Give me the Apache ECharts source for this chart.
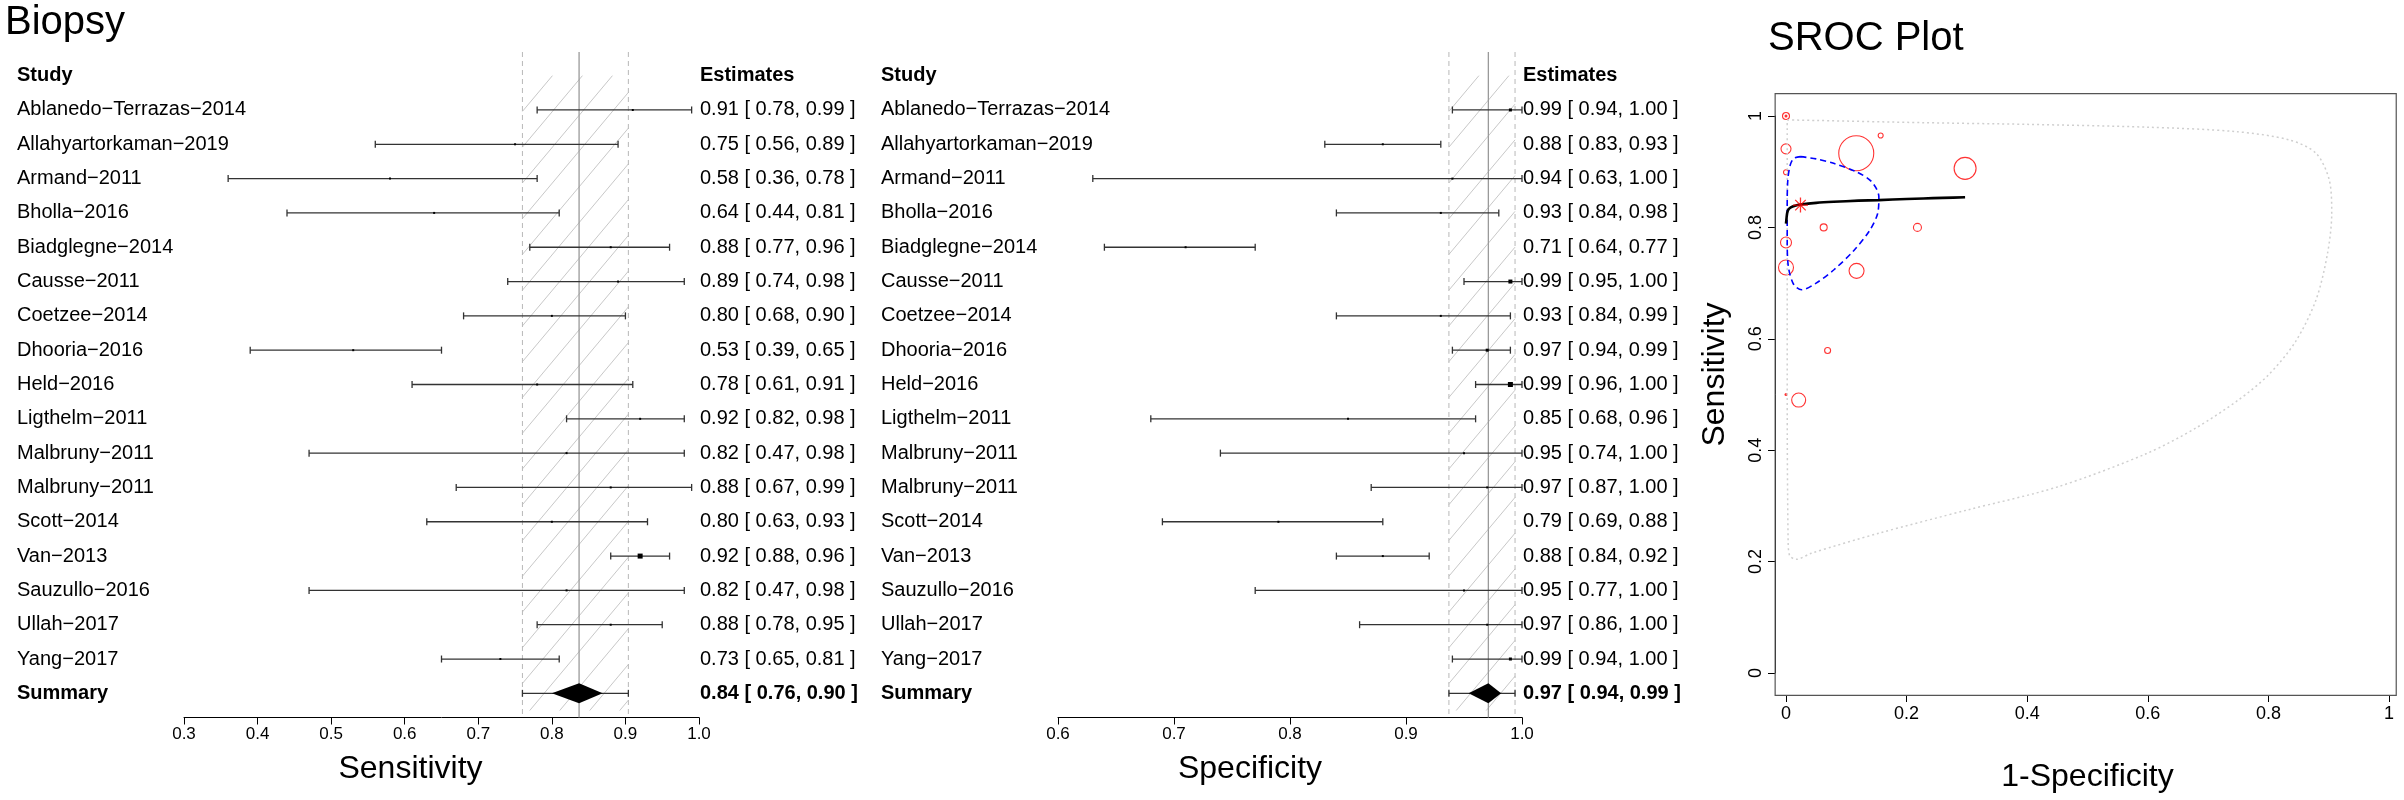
<!DOCTYPE html>
<html lang="en">
<head>
<meta charset="UTF-8">
<title>Biopsy - forest and SROC</title>
<script src="https://cdn.jsdelivr.net/npm/echarts@6/dist/echarts.min.js"></script>
<style>
  html, body { margin: 0; padding: 0; background: #fff; }
  #chart { width: 2404px; height: 800px; }
</style>
</head>
<body>
<div id="chart"></div>
<script>
// ---- forest plot data ----
const studies = ['Ablanedo\u2212Terrazas\u22122014', 'Allahyartorkaman\u22122019', 'Armand\u22122011', 'Bholla\u22122016',
  'Biadglegne\u22122014', 'Causse\u22122011', 'Coetzee\u22122014', 'Dhooria\u22122016', 'Held\u22122016',
  'Ligthelm\u22122011', 'Malbruny\u22122011', 'Malbruny\u22122011', 'Scott\u22122014', 'Van\u22122013',
  'Sauzullo\u22122016', 'Ullah\u22122017', 'Yang\u22122017'];

const sensEst = [0.91, 0.75, 0.58, 0.64, 0.88, 0.89, 0.80, 0.53, 0.78, 0.92, 0.82, 0.88, 0.80, 0.92, 0.82, 0.88, 0.73];
const sensLo  = [0.78, 0.56, 0.36, 0.44, 0.77, 0.74, 0.68, 0.39, 0.61, 0.82, 0.47, 0.67, 0.63, 0.88, 0.47, 0.78, 0.65];
const sensHi  = [0.99, 0.89, 0.78, 0.81, 0.96, 0.98, 0.90, 0.65, 0.91, 0.98, 0.98, 0.99, 0.93, 0.96, 0.98, 0.95, 0.81];
const sensWeight = [2, 2, 2, 2, 2, 2, 2, 2, 2, 2, 2, 2, 2, 5, 2, 2, 2];

const specEst = [0.99, 0.88, 0.94, 0.93, 0.71, 0.99, 0.93, 0.97, 0.99, 0.85, 0.95, 0.97, 0.79, 0.88, 0.95, 0.97, 0.99];
const specLo  = [0.94, 0.83, 0.63, 0.84, 0.64, 0.95, 0.84, 0.94, 0.96, 0.68, 0.74, 0.87, 0.69, 0.84, 0.77, 0.86, 0.94];
const specHi  = [1.00, 0.93, 1.00, 0.98, 0.77, 1.00, 0.99, 0.99, 1.00, 0.96, 1.00, 1.00, 0.88, 0.92, 1.00, 1.00, 1.00];
const specWeight = [3, 2, 2, 2, 2, 4, 2, 3, 5, 2, 2, 2, 2, 2, 2, 2, 3];

// summary: estimate, lower, upper ; diamond: left tip, right tip
const sensSummary = [0.837, 0.760, 0.904];
const specSummary = [0.971, 0.937, 0.994];
const sensDiamond = [0.800, 0.869];
const specDiamond = [0.954, 0.982];

// ---- SROC data ----
const srocFpr  = [0, 0, 0, 0.1165, 0.157, 0.297, 0.0625, 0.218, 0, 0, 0.117, 0.069, 0.021];
const srocSens = [1.0, 0.941, 0.899, 0.933, 0.965, 0.906, 0.80, 0.80, 0.773, 0.728, 0.722, 0.579, 0.49];
const srocWeight = [7, 10, 5, 35, 5, 22, 7, 8, 11, 15, 15, 6, 14];
const dotFpr  = [0, 0];
const dotSens = [1.0, 0.50];
const srocSummary = [0.024, 0.840];

const curveFpr  = [0, 0.001, 0.002, 0.004, 0.008, 0.015, 0.024, 0.05, 0.079, 0.12, 0.154, 0.2, 0.2275, 0.26, 0.297];
const curveSens = [0.807, 0.818, 0.826, 0.832, 0.836, 0.839, 0.841, 0.844, 0.846, 0.848, 0.849, 0.851, 0.852, 0.853, 0.854];

const confFpr  = [0.024, 0.050, 0.079, 0.1165, 0.142, 0.154, 0.152, 0.139, 0.113, 0.079, 0.050, 0.026, 0.013, 0.004, 0.002, 0.002, 0.003, 0.007, 0.013, 0.024];
const confSens = [0.927, 0.923, 0.915, 0.900, 0.882, 0.855, 0.825, 0.795, 0.759, 0.7235, 0.700, 0.688, 0.697, 0.729, 0.777, 0.837, 0.885, 0.912, 0.924, 0.927];

const predFpr  = [0.002, 0.05, 0.228, 0.4, 0.598, 0.746, 0.835, 0.879, 0.901, 0.905, 0.898, 0.879, 0.845, 0.80, 0.75, 0.68, 0.598, 0.45, 0.302, 0.154, 0.042, 0.017, 0.006, 0.0035, 0.002, 0.002];
const predSens = [0.993, 0.992, 0.988, 0.985, 0.980, 0.972, 0.957, 0.933, 0.885, 0.825, 0.753, 0.670, 0.595, 0.535, 0.49, 0.44, 0.394, 0.334, 0.293, 0.251, 0.215, 0.204, 0.211, 0.239, 0.5, 0.993];

const srocXLim = [-0.018, 1.012];
const srocYLim = [-0.04, 1.04];

// ---- helpers ----
const FONT = 'Liberation Sans, Arial, Helvetica, sans-serif';
const rowLabels = ['Study'].concat(studies, ['Summary']);
const rowIdx = rowLabels.map((_, i) => String(i));
const lastRow = rowLabels.length - 1;
const zip = (a, b) => a.map((v, i) => [v, b[i]]);
const fmt = (e, l, h) => e.toFixed(2) + ' [ ' + l.toFixed(2) + ', ' + h.toFixed(2) + ' ]';

function bandItem(params, api) {
  const cs = params.coordSys;
  const est = api.value(1), lo = api.value(2), hi = api.value(3);
  const xl = api.coord([lo, 0])[0], xe = api.coord([est, 0])[0], xr = api.coord([hi, 0])[0];
  const yTop = api.coord([lo, 0])[1];
  const yBot = cs.y + cs.height;
  const lineTop = cs.y - 6.5, lineBot = cs.y + cs.height + 7;
  const t = Math.tan(50 * Math.PI / 180), H = yBot - yTop, step = 30;
  const children = [];
  for (let c = xl - H / t; c < xr; c += step) {
    const xa = Math.max(xl, c), xb = Math.min(xr, c + H / t);
    if (xb <= xa) continue;
    children.push({ type: 'line', shape: { x1: xa, y1: yBot - (xa - c) * t, x2: xb, y2: yBot - (xb - c) * t },
      style: { stroke: '#c8c8c8', lineWidth: 1 } });
  }
  [xl, xr].forEach(x => children.push({ type: 'line', shape: { x1: x, y1: lineTop, x2: x, y2: lineBot },
    style: { stroke: '#b8b8b8', lineWidth: 1, lineDash: [5, 4] } }));
  children.push({ type: 'line', shape: { x1: xe, y1: lineTop, x2: xe, y2: lineBot },
    style: { stroke: '#9a9a9a', lineWidth: 1.3 } });
  return { type: 'group', children };
}

function barItem(params, api) {
  const row = api.value(0);
  const pe = api.coord([api.value(1), row]);
  const pl = api.coord([api.value(2), row]);
  const ph = api.coord([api.value(3), row]);
  const w = api.value(4);
  const st = { stroke: '#333', lineWidth: 1.3 };
  return { type: 'group', children: [
    { type: 'line', shape: { x1: pl[0], y1: pl[1], x2: ph[0], y2: ph[1] }, style: st },
    { type: 'line', shape: { x1: pl[0], y1: pl[1] - 3.5, x2: pl[0], y2: pl[1] + 3.5 }, style: st },
    { type: 'line', shape: { x1: ph[0], y1: ph[1] - 3.5, x2: ph[0], y2: ph[1] + 3.5 }, style: st },
    { type: 'rect', shape: { x: pe[0] - w / 2, y: pe[1] - w / 2, width: w, height: w }, style: { fill: '#000' } }
  ] };
}

function summaryItem(params, api) {
  const row = api.value(0);
  const pe = api.coord([api.value(1), row]);
  const pl = api.coord([api.value(2), row]);
  const ph = api.coord([api.value(3), row]);
  const dl = api.coord([api.value(4), row]);
  const dh = api.coord([api.value(5), row]);
  const st = { stroke: '#333', lineWidth: 1.3 };
  return { type: 'group', children: [
    { type: 'line', shape: { x1: pl[0], y1: pl[1], x2: ph[0], y2: ph[1] }, style: st },
    { type: 'line', shape: { x1: pl[0], y1: pl[1] - 3.5, x2: pl[0], y2: pl[1] + 3.5 }, style: st },
    { type: 'line', shape: { x1: ph[0], y1: ph[1] - 3.5, x2: ph[0], y2: ph[1] + 3.5 }, style: st },
    { type: 'polygon', shape: { points: [[dl[0], dl[1]], [pe[0], pe[1] - 10], [dh[0], dh[1]], [pe[0], pe[1] + 10]] },
      style: { fill: '#000' } }
  ] };
}

function boxItem(params, api) {
  const a = api.coord([srocXLim[0], srocYLim[1]]);
  const b = api.coord([srocXLim[1], srocYLim[0]]);
  return { type: 'rect', shape: { x: a[0], y: a[1], width: b[0] - a[0], height: b[1] - a[1] },
    style: { fill: 'none', stroke: '#555', lineWidth: 1.2 } };
}

const rich = { b: { fontWeight: 'bold', fontSize: 20, fontFamily: FONT, color: '#000' },
               n: { fontSize: 20, fontFamily: FONT, color: '#000' } };
const wrap = (k, s) => (k === 0 || k === lastRow) ? '{b|' + s + '}' : '{n|' + s + '}';

function forestAxes(g, min, max, name, pad, leftMargin, est, lo, hi, summary) {
  const estText = ['Estimates'].concat(est.map((e, i) => fmt(e, lo[i], hi[i])), [fmt(summary[0], summary[1], summary[2])]);
  const x = {
    gridIndex: g, type: 'value', min: min, max: max, interval: 0.1, offset: 7,
    axisLine: { show: true, onZero: false, lineStyle: { color: '#000', width: 1 } },
    axisTick: { show: true, length: 7, lineStyle: { color: '#000' } },
    axisLabel: { fontSize: 17, color: '#000', margin: 8, fontFamily: FONT, formatter: v => v.toFixed(1) },
    splitLine: { show: false },
    name: name, nameLocation: 'middle', nameGap: 36,
    nameTextStyle: { fontSize: 32, color: '#000', fontFamily: FONT, padding: [0, pad, 0, 0] }
  };
  const yl = {
    gridIndex: g, type: 'category', inverse: true, data: rowIdx,
    axisLine: { show: false }, axisTick: { show: false }, splitLine: { show: false },
    axisLabel: { interval: 0, align: 'left', margin: leftMargin, rich: rich,
      formatter: (v, k) => wrap(k, rowLabels[k]) }
  };
  const yr = {
    gridIndex: g, type: 'category', inverse: true, data: rowIdx, position: 'right',
    axisLine: { show: false }, axisTick: { show: false }, splitLine: { show: false },
    axisLabel: { interval: 0, align: 'left', margin: 1, rich: rich,
      formatter: (v, k) => wrap(k, estText[k]) }
  };
  return { x, yl, yr };
}

const sensAx = forestAxes(0, 0.3, 1.0, 'Sensitivity', 62, 167, sensEst, sensLo, sensHi, sensSummary);
const specAx = forestAxes(1, 0.6, 1.0, 'Specificity', 80, 177, specEst, specLo, specHi, specSummary);

function forestSeries(xi, yi, est, lo, hi, w, summary, diamond) {
  return [
    { type: 'custom', xAxisIndex: xi, yAxisIndex: yi, z: 1, silent: true,
      encode: { y: 0, x: [1, 2, 3] }, renderItem: bandItem,
      data: [[lastRow, summary[0], summary[1], summary[2]]] },
    { type: 'custom', xAxisIndex: xi, yAxisIndex: yi, z: 3, silent: true,
      encode: { y: 0, x: [1, 2, 3] }, renderItem: barItem,
      data: est.map((e, i) => [i + 1, e, lo[i], hi[i], w[i]]) },
    { type: 'custom', xAxisIndex: xi, yAxisIndex: yi, z: 3, silent: true,
      encode: { y: 0, x: [1, 2, 3] }, renderItem: summaryItem,
      data: [[lastRow, summary[0], summary[1], summary[2], diamond[0], diamond[1]]] }
  ];
}

const chart = echarts.init(document.getElementById('chart'));
chart.setOption({
  animation: false,
  backgroundColor: '#fff',
  textStyle: { fontFamily: FONT },
  graphic: [
    { type: 'text', x: 5, y: 23, style: { text: 'Biopsy', fontSize: 40, fontFamily: FONT, fill: '#000', verticalAlign: 'middle' } },
    { type: 'text', x: 1768, y: 39, style: { text: 'SROC Plot', fontSize: 40, fontFamily: FONT, fill: '#000', verticalAlign: 'middle' } }
  ],
  grid: [
    { left: 184, top: 58.5, width: 515, height: 652, outerBoundsMode: 'none' },
    { left: 1058, top: 58.5, width: 464, height: 652, outerBoundsMode: 'none' },
    { left: 1786, top: 116, width: 603, height: 557, outerBoundsMode: 'none' }
  ],
  xAxis: [
    sensAx.x, specAx.x,
    { gridIndex: 2, type: 'value', min: 0, max: 1, interval: 0.2, offset: 22,
      axisLine: { show: true, onZero: false, lineStyle: { color: '#000' } },
      axisTick: { show: true, length: 7, lineStyle: { color: '#000' } },
      axisLabel: { fontSize: 18, color: '#000', margin: 10, fontFamily: FONT, formatter: v => String(Math.round(v * 10) / 10) },
      splitLine: { show: false },
      name: '1-Specificity', nameLocation: 'middle', nameGap: 66,
      nameTextStyle: { fontSize: 32, color: '#000', fontFamily: FONT } }
  ],
  yAxis: [
    sensAx.yl, sensAx.yr, specAx.yl, specAx.yr,
    { gridIndex: 2, type: 'value', min: 0, max: 1, interval: 0.2, offset: 11,
      axisLine: { show: true, onZero: false, lineStyle: { color: '#000' } },
      axisTick: { show: true, length: 7, lineStyle: { color: '#000' } },
      axisLabel: { fontSize: 18, color: '#000', margin: 10, rotate: 90, fontFamily: FONT, formatter: v => String(Math.round(v * 10) / 10) },
      splitLine: { show: false },
      name: 'Sensitivity', nameLocation: 'middle', nameGap: 44, nameRotate: 90,
      nameTextStyle: { fontSize: 32, color: '#000', fontFamily: FONT, padding: [0, 0, 0, 40] } }
  ],
  series: [].concat(
    forestSeries(0, 0, sensEst, sensLo, sensHi, sensWeight, sensSummary, sensDiamond),
    forestSeries(1, 2, specEst, specLo, specHi, specWeight, specSummary, specDiamond),
    [
      { type: 'custom', xAxisIndex: 2, yAxisIndex: 4, silent: true, z: 1,
        renderItem: boxItem, data: [[0, 0]] },
      { type: 'line', xAxisIndex: 2, yAxisIndex: 4, data: zip(predFpr, predSens), symbol: 'none',
        smooth: 0.3, clip: false, silent: true,
        lineStyle: { color: '#cfcfcf', width: 1.5, type: [2, 3] } },
      { type: 'line', xAxisIndex: 2, yAxisIndex: 4, data: zip(confFpr, confSens), symbol: 'none',
        smooth: 0.3, clip: false, silent: true,
        lineStyle: { color: '#0000ff', width: 1.6, type: [6, 4] } },
      { type: 'line', xAxisIndex: 2, yAxisIndex: 4, data: zip(curveFpr, curveSens), symbol: 'none',
        smooth: 0.2, clip: false, silent: true,
        lineStyle: { color: '#000', width: 2.6 } },
      { type: 'scatter', xAxisIndex: 2, yAxisIndex: 4, clip: false, silent: true,
        data: srocFpr.map((f, i) => ({ value: [f, srocSens[i]], symbolSize: srocWeight[i] })),
        symbol: 'circle',
        itemStyle: { color: 'rgba(0,0,0,0)', borderColor: '#ff0000', borderWidth: 1.1 } },
      { type: 'scatter', xAxisIndex: 2, yAxisIndex: 4, clip: false, silent: true,
        data: zip(dotFpr, dotSens), symbol: 'circle', symbolSize: 3,
        itemStyle: { color: '#ff0000' } },
      { type: 'scatter', xAxisIndex: 2, yAxisIndex: 4, clip: false, silent: true, z: 5,
        data: [srocSummary], symbolSize: 15,
        symbol: 'path://M5,0L5,10M0,5L10,5M1.5,1.5L8.5,8.5M8.5,1.5L1.5,8.5',
        itemStyle: { color: 'none', borderColor: '#ff0000', borderWidth: 1.3 } }
    ]
  )
});
</script>
</body>
</html>
